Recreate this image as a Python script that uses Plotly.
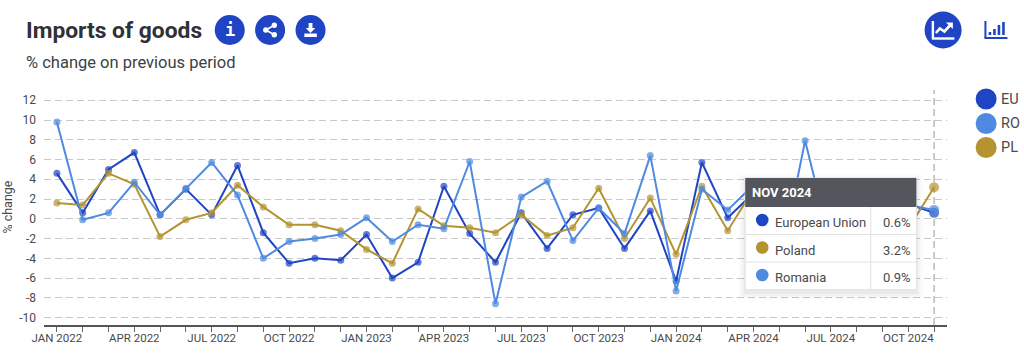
import plotly.graph_objects as go

MONTHS = ["JAN", "FEB", "MAR", "APR", "MAY", "JUN", "JUL", "AUG", "SEP", "OCT", "NOV", "DEC"]
categories = [f"{m} {y}" for y in (2022, 2023, 2024) for m in MONTHS][:35]
x_tick_labels = [c if i % 3 == 0 else "" for i, c in enumerate(categories)]
y_ticks = [-10, -8, -6, -4, -2, 0, 2, 4, 6, 8, 10, 12]

eu = [4.6, 0.6, 5.0, 6.7, 0.4, 3.0, 0.4, 5.4, -1.4, -4.5, -4.0, -4.2,
      -1.6, -6.0, -4.4, 3.3, -1.5, -4.4, 0.6, -3.0, 0.4, 1.1, -3.0, 0.8,
      -6.3, 5.7, 0.1, 2.6, 0.5, 1.0, -0.5, 2.0, 0.5, 1.5, 0.6]
poland = [1.6, 1.4, 4.6, 3.5, -1.8, -0.1, 0.6, 3.4, 1.2, -0.6, -0.6, -1.2,
          -3.1, -4.5, 1.0, -0.7, -0.9, -1.4, 0.4, -1.7, -0.9, 3.1, -2.0, 2.1,
          -3.6, 3.3, -1.2, 3.0, 1.0, 0.5, -1.0, 1.0, -0.5, -1.0, 3.2]
romania = [9.8, -0.1, 0.6, 3.7, 0.4, 3.1, 5.7, 2.4, -4.0, -2.3, -2.0, -1.6,
           0.1, -2.3, -0.6, -1.0, 5.8, -8.6, 2.2, 3.8, -2.2, 1.1, -1.5, 6.4,
           -7.3, 3.0, 0.9, 3.4, -5.0, 7.9, -2.6, 1.5, 0.5, 1.4, 0.9]

EU_C, PL_C, RO_C = "#1f44c4", "#b39430", "#4f8ae0"
TXT = "#4a4a4a"
FONT = "Roboto"

L, R, T, B = 44.4, 946.6, 90, 325


def px(x):
    return (x - L) / (R - L)


def py(y):
    return (B - y) / (B - T)


def rect(x0, y0, x1, y1, fill, line=None, opacity=1, lw=1):
    return dict(type="rect", xref="paper", yref="paper", x0=px(x0), x1=px(x1), y0=py(y0), y1=py(y1),
                fillcolor=fill, opacity=opacity, layer="above",
                line=dict(color=line or fill, width=lw if line else 0))


def circ(cx, cy, r, fill):
    return dict(type="circle", xref="paper", yref="paper", x0=px(cx - r), x1=px(cx + r),
                y0=py(cy + r), y1=py(cy - r), fillcolor=fill, layer="above", line=dict(width=0))


def seg(x0, y0, x1, y1, color, w=1):
    return dict(type="line", xref="paper", yref="paper", x0=px(x0), x1=px(x1), y0=py(y0), y1=py(y1),
                layer="above", line=dict(color=color, width=w))


def poly(points, fill):
    path = "M " + " L ".join(f"{px(a):.5f},{py(b):.5f}" for a, b in points) + " Z"
    return dict(type="path", xref="paper", yref="paper", path=path, fillcolor=fill, layer="above", line=dict(width=0))


def label(x, y, text, size=13, color=TXT, anchor="left", bold=False, angle=0, family=FONT):
    return dict(xref="paper", yref="paper", x=px(x), y=py(y), text=f"<b>{text}</b>" if bold else text,
                showarrow=False, xanchor=anchor, yanchor="middle", borderpad=0, borderwidth=0, textangle=angle,
                font=dict(family=family, size=size, color=color))


fig = go.Figure()
for name, vals, col in (("European Union", eu, EU_C), ("Poland", poland, PL_C), ("Romania", romania, RO_C)):
    fig.add_trace(go.Scatter(
        x=categories, y=vals, name=name, mode="lines+markers",
        line=dict(color=col, width=2),
        marker=dict(color=col, size=[7] * 34 + [10], line=dict(width=0)),
        showlegend=False,
    ))

WHITE = "#ffffff"
shapes = [dict(type="line", xref="x", yref="paper", x0=categories[-1], x1=categories[-1], y0=0, y1=1,
               layer="below", line=dict(color="#a8a8a8", width=1.2, dash="7px,4px"))]

# tooltip shadow, body, header
for grow, op in ((7, 0.012), (5, 0.018), (3, 0.025), (1.5, 0.03)):
    shapes.append(rect(745 - grow, 178 - grow + 3, 916 + grow, 289.5 + grow + 3, "#000000", opacity=op))
shapes += [
    rect(745, 178, 916, 289.5, WHITE, line="#e4e4e4"),
    rect(745, 178, 916, 207, "#53565c"),
    seg(745, 234.5, 916, 234.5, "#e2e2e2"),
    seg(745, 262, 916, 262, "#e2e2e2"),
    seg(870.5, 207, 870.5, 289.5, "#e2e2e2"),
    circ(762, 220, 6.3, EU_C), circ(762, 247.5, 6.3, PL_C), circ(762, 275, 6.3, RO_C),
]
# legend swatches
shapes += [circ(985.7, 99, 10.5, EU_C), circ(985.7, 123.5, 10.5, RO_C), circ(985.7, 147.5, 10.5, PL_C)]
# header icons
shapes += [circ(230, 30, 15, EU_C), circ(270.3, 30, 15, EU_C), circ(310.7, 30, 15, EU_C), circ(942.7, 30, 18.5, EU_C)]
# share glyph
shapes += [seg(266, 30, 274, 25.5, WHITE, 1.6), seg(266, 30, 274, 34.5, WHITE, 1.6),
           circ(266, 30, 2.7, WHITE), circ(274.5, 25.3, 2.7, WHITE), circ(274.5, 34.7, 2.7, WHITE)]
# download glyph
shapes += [poly([(308.8, 23), (312.6, 23), (312.6, 28), (315.5, 28), (310.7, 33), (305.9, 28), (308.8, 28)], WHITE),
           rect(304.5, 33.5, 317, 37, WHITE)]
# line-chart glyph
shapes += [seg(932.5, 21, 932.5, 38.5, WHITE, 2.4), seg(931.5, 38.5, 954, 38.5, WHITE, 2.4),
           dict(type="path", xref="paper", yref="paper", layer="above",
                path="M " + " L ".join(f"{px(a):.5f},{py(b):.5f}" for a, b in
                                       [(935.5, 33), (939.5, 28.5), (944, 31.5), (950, 25)]),
                line=dict(color=WHITE, width=2.6)),
           poly([(945.5, 22.5), (952.5, 22.5), (952.5, 29)], WHITE)]
# bar-chart glyph
shapes += [seg(985, 21, 985, 38, EU_C, 2), seg(984, 38, 1007, 38, EU_C, 2)]
for bx, top in ((989.5, 32), (994, 29), (998.5, 25), (1003, 22)):
    shapes.append(rect(bx - 1.3, top, bx + 1.3, 35, EU_C))

annotations = [
    label(26, 31, "Imports of goods", size=22.8, color="#2f3136", bold=True),
    label(26, 62, "% change on previous period", size=16.5, color="#3c3f44"),
    label(230, 30, "i", size=17, color=WHITE, anchor="center", bold=True, family="DejaVu Sans Mono"),
    label(752, 192.7, "NOV 2024", size=13, color=WHITE, bold=True),
    label(774.3, 222.3, "European Union", size=13),
    label(774.3, 250, "Poland", size=13),
    label(774.3, 277.5, "Romania", size=13),
    label(910.5, 222.3, "0.6%", size=13, anchor="right"),
    label(910.5, 250, "3.2%", size=13, anchor="right"),
    label(910.5, 277.5, "0.9%", size=13, anchor="right"),
    label(1000.5, 99, "EU", size=14.5),
    label(1000.5, 123.5, "RO", size=14.5),
    label(1000.5, 147.5, "PL", size=14.5),
    label(7, 207, "% change", size=12.5, anchor="center", angle=-90),
]

fig.update_layout(
    width=1024, height=360,
    margin=dict(l=L, r=1024 - R, t=T, b=360 - B, pad=0),
    paper_bgcolor=WHITE, plot_bgcolor=WHITE,
    font=dict(family=FONT, color=TXT),
    shapes=shapes, annotations=annotations,
    xaxis=dict(
        type="category", categoryorder="array", categoryarray=categories,
        range=[-0.5, 34.5], tickmode="array", tickvals=categories, ticktext=x_tick_labels,
        tickangle=0, showgrid=False, ticks="outside", ticklen=5, tickcolor="#666666", tickwidth=1,
        showline=True, linecolor="#555555", linewidth=1.5, tickfont=dict(size=11.5, color=TXT),
        zeroline=False, automargin=False, ticklabelstandoff=-4,
    ),
    yaxis=dict(
        range=[(B - 218.8) / -9.88, (218.8 - T) / 9.88], tickmode="array", tickvals=y_ticks,
        ticktext=[str(v) for v in y_ticks], showgrid=True, gridcolor="#c9c9c9", griddash="7px,4px",
        gridwidth=1.2, zeroline=False, showline=False, ticks="", ticklabelstandoff=7,
        tickfont=dict(size=12, color=TXT), automargin=False,
    ),
)

fig.write_html("out.html", config=dict(displayModeBar=False),
               post_script="document.body.style.margin='0';")
